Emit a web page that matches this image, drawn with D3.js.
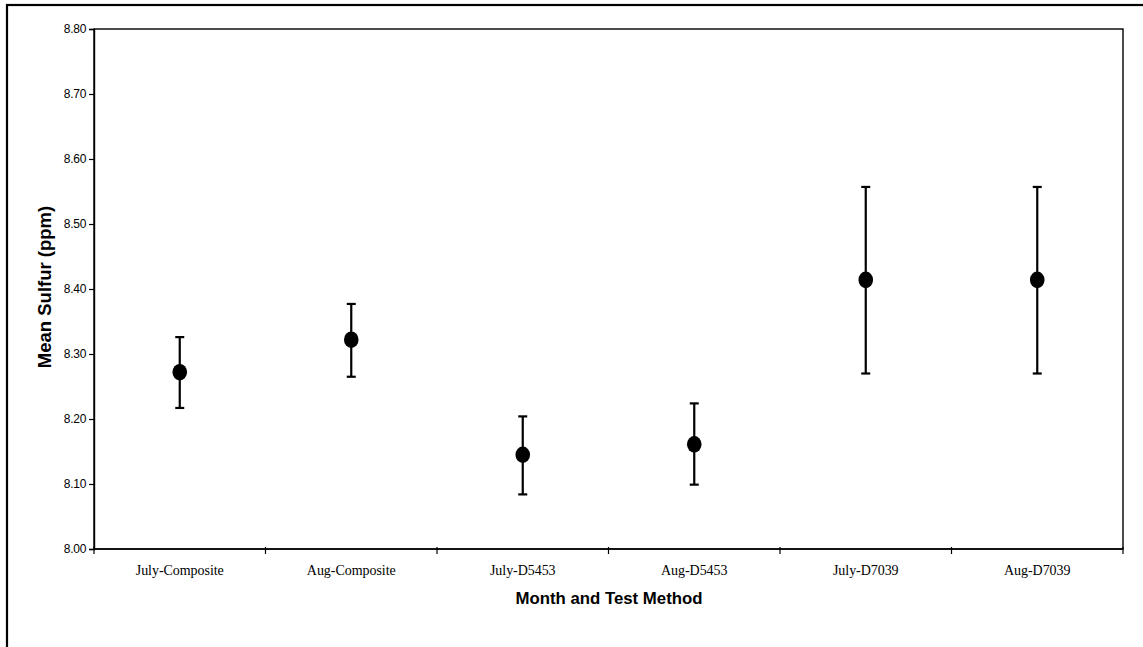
<!DOCTYPE html>
<html><head><meta charset="utf-8">
<script src="https://cdn.jsdelivr.net/npm/d3@7"></script>
<style>html,body{margin:0;padding:0;background:#fff;}svg{display:block;}</style>
</head><body>
<svg id="c" width="1143" height="647"></svg>
<script>
const categories = ["July-Composite","Aug-Composite","July-D5453","Aug-D5453","July-D7039","Aug-D7039"];
const means = [8.272, 8.322, 8.145, 8.161, 8.414, 8.414];
const upper = [8.326, 8.377, 8.204, 8.224, 8.557, 8.557];
const lower = [8.217, 8.265, 8.084, 8.099, 8.270, 8.270];
const yTicks = [8.00, 8.10, 8.20, 8.30, 8.40, 8.50, 8.60, 8.70, 8.80];

const svg = d3.select("#c");
const L = 94, R = 1123, T = 29, B = 549;

// outer frame
svg.append("rect").attr("x",7).attr("y",5).attr("width",1150).attr("height",660)
  .attr("fill","none").attr("stroke","#000").attr("stroke-width",2.2);

const x = d3.scaleBand().domain(categories).range([L,R]).padding(0);
const y = d3.scaleLinear().domain([8.0,8.8]).range([B,T]);

// plot frame
svg.append("rect").attr("x",L).attr("y",T).attr("width",R-L).attr("height",B-T)
  .attr("fill","none").attr("stroke","#000").attr("stroke-width",1.4);

// y axis
const ya = svg.append("g").attr("transform",`translate(${L},0)`)
  .call(d3.axisLeft(y).tickValues(yTicks).tickFormat(d3.format(".2f")).tickSize(5).tickPadding(3));
ya.select(".domain").attr("stroke-width",1.4);
ya.selectAll(".tick line").attr("stroke-width",1.2);
ya.selectAll("text").attr("font-family","'Liberation Sans', Arial, sans-serif").attr("font-size",12).attr("fill","#000").attr("letter-spacing","-0.3");

// x axis ticks at band boundaries
const xa = svg.append("g").attr("transform",`translate(0,${B})`);
xa.append("line").attr("x1",L).attr("x2",R).attr("stroke","#000").attr("stroke-width",1.6);
const bounds = categories.map(c => x(c)).concat([R]);
xa.selectAll("line.t").data(bounds).enter().append("line").attr("class","t")
  .attr("x1",d=>d).attr("x2",d=>d).attr("y1",-2).attr("y2",5).attr("stroke","#000").attr("stroke-width",1.2);
xa.selectAll("text").data(categories).enter().append("text")
  .attr("x",d=>x(d)+x.bandwidth()/2).attr("y",26)
  .attr("text-anchor","middle").attr("font-family","'Liberation Serif', 'Times New Roman', serif")
  .attr("font-size",14).attr("letter-spacing","-0.05").attr("fill","#000").text(d=>d);

// error bars
const g = svg.append("g");
categories.forEach((c,i)=>{
  const cx = x(c)+x.bandwidth()/2;
  g.append("line").attr("x1",cx).attr("x2",cx).attr("y1",y(upper[i])).attr("y2",y(lower[i])).attr("stroke","#000").attr("stroke-width",2.2);
  [upper[i],lower[i]].forEach(v=>{
    g.append("line").attr("x1",cx-4.5).attr("x2",cx+4.5).attr("y1",y(v)).attr("y2",y(v)).attr("stroke","#000").attr("stroke-width",2.2);
  });
  g.append("ellipse").attr("cx",cx).attr("cy",y(means[i])).attr("rx",7.3).attr("ry",8.3).attr("fill","#000");
});

// axis titles
svg.append("text").attr("x",609).attr("y",604).attr("text-anchor","middle")
  .attr("font-family","'Liberation Sans', Arial, sans-serif").attr("font-weight","bold").attr("font-size",16.8)
  .text("Month and Test Method");
svg.append("text").attr("transform",`translate(51,${287}) rotate(-90)`).attr("text-anchor","middle")
  .attr("font-family","'Liberation Sans', Arial, sans-serif").attr("font-weight","bold").attr("font-size",18.5)
  .text("Mean Sulfur (ppm)");
</script>
</body></html>
